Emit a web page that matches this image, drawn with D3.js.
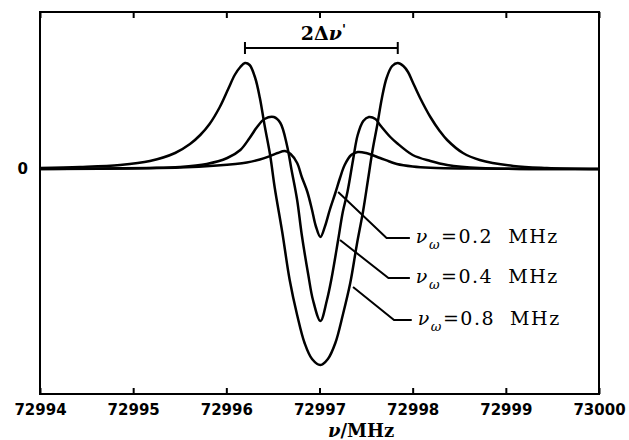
<!DOCTYPE html>
<html>
<head>
<meta charset="utf-8">
<script src="https://cdn.jsdelivr.net/npm/d3@7"></script>
<style>
  body { margin: 0; background: #fff; }
  svg { display: block; }
</style>
</head>
<body>
<div class="container"></div>
<script>
// frequencies in MHz, signal in arbitrary units (0 = baseline)
const xTicks = [72994, 72995, 72996, 72997, 72998, 72999, 73000];
const yTicks = [0];

const nu08 = [72994.00, 72994.43, 72994.86, 72995.18, 72995.45, 72995.61, 72995.72, 72995.82, 72995.93, 72996.02,
  72996.09, 72996.15, 72996.20, 72996.25, 72996.31, 72996.36, 72996.41, 72996.47, 72996.52, 72996.60,
  72996.68, 72996.76, 72996.84, 72996.92, 72997.01, 72997.09, 72997.17, 72997.25, 72997.33, 72997.40,
  72997.47, 72997.52, 72997.57, 72997.62, 72997.67, 72997.72, 72997.78, 72997.84, 72997.90, 72997.95,
  72998.00, 72998.08, 72998.19, 72998.29, 72998.37, 72998.54, 72998.72, 72999.08, 72999.44, 73000.00];
const sig08 = [0.01, 0.02, 0.04, 0.08, 0.16, 0.25, 0.34, 0.45, 0.62, 0.80,
  0.94, 1.02, 1.06, 1.04, 0.91, 0.71, 0.44, 0.14, -0.19, -0.63,
  -1.11, -1.46, -1.74, -1.90, -1.96, -1.90, -1.74, -1.46, -1.14, -0.76,
  -0.41, -0.11, 0.19, 0.44, 0.71, 0.91, 1.03, 1.06, 1.03, 0.97,
  0.87, 0.71, 0.52, 0.38, 0.29, 0.16, 0.09, 0.03, 0.01, 0.00];

const nu04 = [72994.00, 72995.18, 72995.50, 72995.79, 72996.01, 72996.15, 72996.25, 72996.33, 72996.41, 72996.51,
  72996.58, 72996.65, 72996.70, 72996.76, 72996.81, 72996.88, 72996.93, 72997.01, 72997.08, 72997.13,
  72997.20, 72997.25, 72997.30, 72997.36, 72997.41, 72997.47, 72997.53, 72997.60, 72997.65, 72997.76,
  72997.83, 72998.00, 72998.19, 72998.37, 72998.72, 73000.00];
const sig04 = [0.00, 0.01, 0.02, 0.05, 0.11, 0.19, 0.31, 0.42, 0.50, 0.52,
  0.46, 0.24, -0.01, -0.31, -0.66, -1.06, -1.31, -1.52, -1.31, -1.09,
  -0.71, -0.43, -0.23, 0.09, 0.34, 0.48, 0.52, 0.50, 0.44, 0.32,
  0.26, 0.14, 0.08, 0.04, 0.01, 0.00];

const nu02 = [72994.00, 72995.50, 72995.90, 72996.22, 72996.36, 72996.47, 72996.55, 72996.63, 72996.69, 72996.76,
  72996.81, 72996.87, 72996.92, 72996.96, 72997.01, 72997.06, 72997.11, 72997.17, 72997.22, 72997.27,
  72997.34, 72997.41, 72997.50, 72997.65, 72997.75, 72997.83, 72998.00, 72998.19, 72998.60, 73000.00];
const sig02 = [0.00, 0.015, 0.035, 0.065, 0.095, 0.13, 0.16, 0.18, 0.15, 0.06,
  -0.08, -0.23, -0.41, -0.57, -0.68, -0.57, -0.41, -0.24, -0.09, 0.04,
  0.14, 0.17, 0.16, 0.11, 0.075, 0.05, 0.025, 0.012, 0.004, 0.00];

// legend: label value, point on curve where the leader starts, elbow, end of leader
const legendVals = ["0.2", "0.4", "0.8"];
const leaderFrom = [[72997.20, -0.23], [72997.22, -0.71], [72997.36, -1.18]];
const leaderElbow = [[72997.72, -0.69], [72997.74, -1.09], [72997.80, -1.51]];
const leaderEnd = [72997.97, 72997.97, 72997.99];

const width = 629, height = 440;
const mLeft = 40, mRight = 599, mTop = 12, mBottom = 394;

const x = d3.scaleLinear().domain([72994, 73000]).range([mLeft, mRight]);
const y = d3.scaleLinear().domain([-2.25, 1.57]).range([mBottom, mTop]);

const svg = d3.select(".container").append("svg")
  .attr("width", width)
  .attr("height", height);

const curves = [
  {nu: nu02, s: sig02},
  {nu: nu04, s: sig04},
  {nu: nu08, s: sig08}
].map(c => c.nu.map((v, i) => [v, c.s[i]]));

const line = d3.line()
  .x(d => x(d[0]))
  .y(d => y(d[1]))
  .curve(d3.curveCatmullRom.alpha(0.5));

svg.selectAll("path.trace")
  .data(curves)
  .enter()
  .append("path")
  .attr("class", "trace")
  .attr("d", line)
  .attr("fill", "none")
  .attr("stroke", "#000")
  .attr("stroke-width", 2.5)
  .attr("stroke-linejoin", "round");

// frame + ticks
svg.append("rect")
  .attr("x", mLeft).attr("y", mTop)
  .attr("width", mRight - mLeft).attr("height", mBottom - mTop)
  .attr("fill", "none").attr("stroke", "#000").attr("stroke-width", 2);

const xAxis = svg.append("g")
  .attr("transform", `translate(0,${mBottom})`)
  .call(d3.axisBottom(x).tickValues(xTicks).tickSize(-6).tickPadding(10).tickFormat(d3.format("d")));
xAxis.select(".domain").remove();
xAxis.selectAll(".tick line").attr("stroke-width", 2);
xAxis.selectAll("text")
  .attr("font-family", "DejaVu Sans")
  .attr("font-weight", "bold")
  .attr("font-size", 15)
  .attr("fill", "#000");

const topAxis = svg.append("g")
  .attr("transform", `translate(0,${mTop})`)
  .call(d3.axisTop(x).tickValues(xTicks).tickSize(-6).tickFormat(""));
topAxis.select(".domain").remove();
topAxis.selectAll(".tick line").attr("stroke-width", 2);

const yAxis = svg.append("g")
  .attr("transform", `translate(${mLeft},0)`)
  .call(d3.axisLeft(y).tickValues(yTicks).tickSize(0).tickPadding(12).tickFormat(d3.format("d")));
yAxis.select(".domain").remove();
yAxis.selectAll("text")
  .attr("font-family", "DejaVu Sans")
  .attr("font-weight", "bold")
  .attr("font-size", 15)
  .attr("fill", "#000");

// axis title
const xt = svg.append("text")
  .attr("x", 328).attr("y", 437)
  .attr("font-family", "DejaVu Serif")
  .attr("font-weight", "bold")
  .attr("font-size", 18);
xt.append("tspan").attr("font-style", "italic").text("ν");
xt.append("tspan").text("/MHz");

// 2Δν' bar between the two maxima of the widest trace
const half = curves[2].filter(d => d[0] < 72997);
const pkL = half[d3.maxIndex(half, d => d[1])][0];
const half2 = curves[2].filter(d => d[0] > 72997);
const pkR = half2[d3.maxIndex(half2, d => d[1])][0];
const barY = y(1.21);
svg.append("line")
  .attr("x1", x(pkL)).attr("x2", x(pkR))
  .attr("y1", barY).attr("y2", barY)
  .attr("stroke", "#000").attr("stroke-width", 2);
[pkL, pkR].forEach(p => {
  svg.append("line")
    .attr("x1", x(p)).attr("x2", x(p))
    .attr("y1", barY - 6).attr("y2", barY + 6)
    .attr("stroke", "#000").attr("stroke-width", 2);
});
const dl = svg.append("text")
  .attr("x", (x(pkL) + x(pkR)) / 2 + 2).attr("y", barY - 8)
  .attr("text-anchor", "middle")
  .attr("font-family", "DejaVu Serif")
  .attr("font-weight", "bold")
  .attr("font-size", 19);
dl.append("tspan").text("2Δ");
dl.append("tspan").attr("font-style", "italic").text("ν");
dl.append("tspan").attr("font-size", 13).attr("dy", -6).text("'");

// leaders and labels
legendVals.forEach((v, i) => {
  const p0 = leaderFrom[i], p1 = leaderElbow[i];
  svg.append("polyline")
    .attr("points", [[x(p0[0]), y(p0[1])], [x(p1[0]), y(p1[1])], [x(leaderEnd[i]), y(p1[1])]].join(" "))
    .attr("fill", "none").attr("stroke", "#000").attr("stroke-width", 2);
  const t = svg.append("text")
    .attr("x", x(leaderEnd[i]) + 6)
    .attr("y", y(p1[1]) + 5)
    .attr("font-family", "DejaVu Serif")
    .attr("font-size", 19)
    .attr("letter-spacing", 1.5);
  t.append("tspan").attr("font-style", "italic").text("ν");
  t.append("tspan").attr("font-style", "italic").attr("font-size", 13).attr("dy", 6).text("ω");
  t.append("tspan").attr("dy", -6).text("=" + v + "\u00a0 MHz");
});
</script>
</body>
</html>
